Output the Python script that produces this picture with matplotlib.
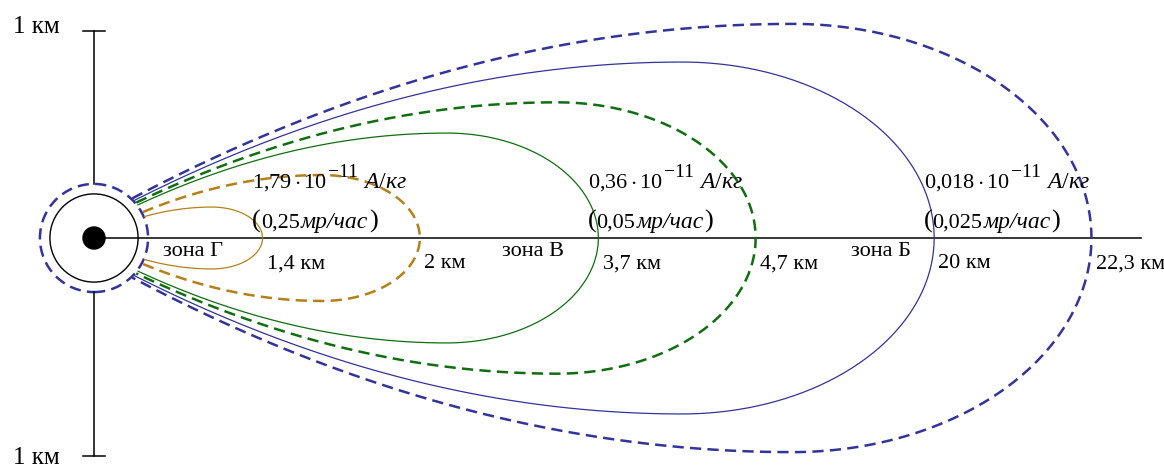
import numpy as np
import matplotlib.pyplot as plt
from matplotlib.patches import Circle
from matplotlib.transforms import IdentityTransform

plt.rcParams['font.family'] = ['Liberation Serif', 'DejaVu Serif']
plt.rcParams['mathtext.fontset'] = 'custom'
plt.rcParams['mathtext.rm'] = 'Liberation Serif'
plt.rcParams['mathtext.it'] = 'Liberation Serif:italic'

# zone boundaries: inner (solid) and outer (dashed) edge of each zone
dist_km = [1.4, 2, 3.7, 4.7, 20, 22.3]
dist_labels = ['1,4 км', '2 км', '3,7 км', '4,7 км', '20 км', '22,3 км']
half_width_km = [0.146, 0.297, 0.495, 0.64, 0.83, 1.01]
start_angle = [23, 28, 37, 40, 43, 46]

zone_names = ['зона Г', 'зона В', 'зона Б']
dose = ['1,79', '0,36', '0,018']
rate = ['0,25', '0,05', '0,025']
zone_colors = ['#b5801a', '#0f6e0f', '#33339c']
zone_label_shift = [0.33, 0.31, 0.25]

# diagram is not to scale along the axis: each zone gets the same length
def axis_pos(i):
    return 0.795 + 1.584 * (i // 2) + 0.742 * (i % 2)

def contour(tip, h, ang, r0=0.26):
    a = np.radians(ang)
    xs, h0 = r0 * np.cos(a), r0 * np.sin(a)
    xm = 0.7 * tip
    u = np.linspace(0, 1, 120)
    x1 = xs + (xm - xs) * u
    y1 = h - (h - h0) * (1 - u) ** 2
    th = np.linspace(0, np.pi / 2, 120)[1:]
    x2 = xm + (tip - xm) * np.sin(th)
    y2 = h * np.cos(th)
    x = np.concatenate([x1, x2])
    y = np.concatenate([y1, y2])
    return np.concatenate([x, x[::-1]]), np.concatenate([y, -y[::-1]])

fig = plt.figure(figsize=(11.64, 4.70), dpi=100)
ax = fig.add_axes([0, 0, 1, 1])
ax.set_xlim(-94 / 212, 1070 / 212)
ax.set_ylim(-232 / 212, 238 / 212)
ax.axis('off')
renderer = fig.canvas.get_renderer()

# text made of pieces of different size, set one after another on a baseline
def chain(x, y, parts):
    px, py = ax.transData.transform((x, y))
    for s, size, style, dx, dy in parts:
        t = fig.text(px + dx, py + dy, s, fontsize=size, style=style,
                     ha='left', va='baseline', transform=IdentityTransform())
        px = t.get_window_extent(renderer).x1

# axis of the trace and vertical 1 km scale
ax.plot([0, 4.94], [0, 0], color='black', lw=1.1)
ax.plot([0, 0], [0.255, 0.976], color='black', lw=1.1)
ax.plot([0, 0], [-0.255, -1.028], color='black', lw=1.1)
ax.plot([-0.052, 0.052], [0.976, 0.976], color='black', lw=1.1)
ax.plot([-0.052, 0.052], [-1.028, -1.028], color='black', lw=1.1)
ax.text(-0.274, 0.967, '1 км', fontsize=18, ha='center', va='baseline')
ax.text(-0.274, -1.068, '1 км', fontsize=18, ha='center', va='baseline')

# explosion centre
ax.add_patch(Circle((0, 0), 0.208, fill=False, edgecolor='black', lw=1.0))
ax.add_patch(Circle((0, 0), 0.255, fill=False, edgecolor=zone_colors[2],
                    lw=1.8, linestyle=(0, (4.5, 2.5))))
ax.add_patch(Circle((0, 0), 0.052, color='black'))

for i in range(len(dist_km)):
    tip = axis_pos(i)
    c = zone_colors[i // 2]
    x, y = contour(tip, half_width_km[i], start_angle[i])
    if i % 2 == 0:
        ax.plot(x, y, color=c, lw=0.9)
    else:
        ax.plot(x, y, color=c, lw=1.8, linestyle=(0, (4.5, 2.5)))
    ax.text(tip + 0.02, -0.142, dist_labels[i], fontsize=16,
            ha='left', va='baseline')

for k in range(3):
    tip = axis_pos(2 * k)
    ax.text(tip - zone_label_shift[k], -0.066, zone_names[k], fontsize=16,
            ha='center', va='center')
    chain(tip - 0.05, 0.236, [
        (r'$%s\cdot10$' % dose[k].replace(',', '{,}'), 16, 'normal', 0, 0),
        ('\u221211', 14, 'normal', 1, 11),
        (r'$А/кг$', 17, 'normal', 5, 0)])
    chain(tip - 0.05, 0.047, [
        ('(', 19, 'normal', 0, 0),
        (rate[k], 16, 'normal', 0, 0),
        ('мр/час', 17, 'italic', 1, 0),
        (')', 19, 'normal', 1, 0)])

fig.savefig('out.png', dpi=100)
